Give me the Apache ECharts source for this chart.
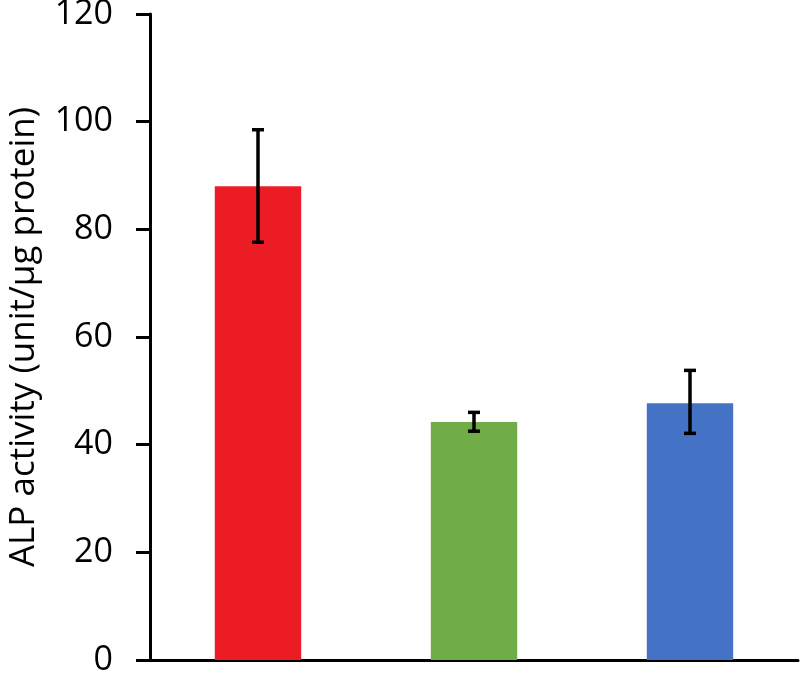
<!DOCTYPE html>
<html>
<head>
<meta charset="utf-8">
<script src="https://cdn.jsdelivr.net/npm/echarts@6/dist/echarts.min.js"></script>
<style>
  html, body { margin: 0; padding: 0; background: #fff; }
  #main { width: 800px; height: 675px; }
</style>
</head>
<body>
<div id="main"></div>
<script>
// groups (no labels shown on the x axis)
const categories = ['A', 'B', 'C'];
const values = [88.0, 44.2, 47.7];
const errLow = [77.6, 42.5, 42.1];
const errHigh = [98.5, 46.0, 53.8];
const barColors = ['#ec1c24', '#70ad47', '#4472c4'];
const yTicks = [0, 20, 40, 60, 80, 100, 120];

var myChart = echarts.init(document.getElementById('main'));

const errData = categories.map((c, i) => [i, errLow[i], errHigh[i]]);

const option = {
    animation: false,
    grid: { left: 150, right: 2, top: 14, bottom: 15, containLabel: false, outerBoundsMode: 'none' },
    xAxis: {
        type: 'category',
        data: categories,
        axisLine: { lineStyle: { color: '#000', width: 3 } },
        axisTick: { show: false },
        axisLabel: { show: false }
    },
    yAxis: {
        type: 'value',
        min: yTicks[0],
        max: yTicks[yTicks.length - 1],
        interval: 20,
        name: 'ALP activity (unit/µg protein)',
        nameLocation: 'middle',
        nameGap: 108,
        nameTextStyle: { fontSize: 35, color: '#000', fontFamily: 'Open Sans' },
        axisLine: { show: true, lineStyle: { color: '#000', width: 3 } },
        axisTick: { show: true, length: 14, lineStyle: { color: '#000', width: 3 } },
        axisLabel: { fontSize: 34, color: '#000', margin: 37, fontFamily: 'Open Sans' },
        splitLine: { show: false }
    },
    series: [
        {
            type: 'bar',
            barWidth: '40%',
            data: values.map((v, i) => ({ value: v, itemStyle: { color: barColors[i] } }))
        },
        {
            type: 'custom',
            data: errData,
            z: 5,
            renderItem: function (params, api) {
                const lo = api.coord([api.value(0), api.value(1)]);
                const hi = api.coord([api.value(0), api.value(2)]);
                const w = 6;
                const style = { stroke: '#000', lineWidth: 3.5 };
                return {
                    type: 'group',
                    children: [
                        { type: 'line', shape: { x1: lo[0], y1: lo[1], x2: hi[0], y2: hi[1] }, style: style },
                        { type: 'line', shape: { x1: lo[0] - w, y1: lo[1], x2: lo[0] + w, y2: lo[1] }, style: style },
                        { type: 'line', shape: { x1: hi[0] - w, y1: hi[1], x2: hi[0] + w, y2: hi[1] }, style: style }
                    ]
                };
            }
        }
    ]
};

myChart.setOption(option);
</script>
</body>
</html>
